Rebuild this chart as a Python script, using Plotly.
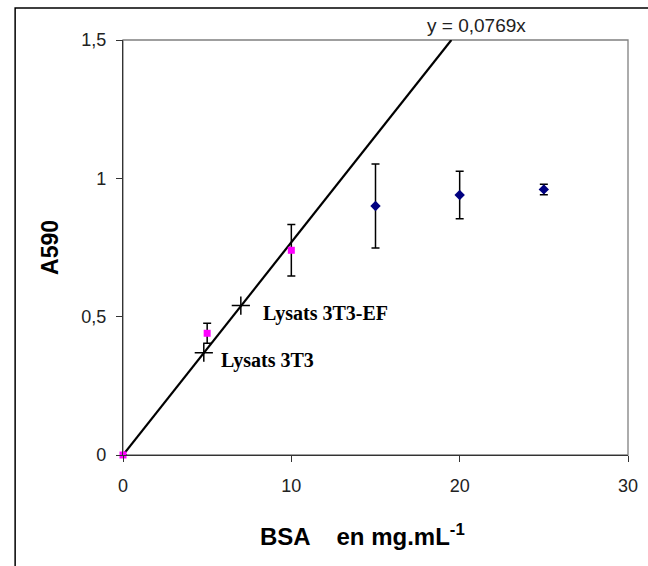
import plotly.graph_objects as go

# ---- data ----
bsa_std = [0, 5, 10]
a590_std = [0.0, 0.44, 0.74]
err_std = [0.0, 0.036, 0.093]

bsa_sat = [15, 20, 25]
a590_sat = [0.90, 0.94, 0.96]
err_sat = [0.152, 0.086, 0.019]

lysat_names = ["Lysats 3T3", "Lysats 3T3-EF"]
lysat_x = [4.8, 7.0]
lysat_y = [0.37, 0.54]

slope = 0.0769
y_max = 1.5

x_ticks = [0, 10, 20, 30]
x_ticktext = ["0", "10", "20", "30"]
y_ticks = [0, 0.5, 1, 1.5]
y_ticktext = ["0", "0,5", "1", "1,5"]

# ---- figure ----
fig = go.Figure()

fig.add_trace(go.Scatter(
    x=[0, y_max / slope], y=[0, y_max], mode="lines",
    line=dict(color="black", width=2.2), cliponaxis=False, showlegend=False))

fig.add_trace(go.Scatter(
    x=bsa_std, y=a590_std, mode="markers",
    marker=dict(symbol="square", size=7, color="#FF00FF"),
    error_y=dict(type="data", array=err_std, visible=True, color="black", thickness=1.5, width=4),
    cliponaxis=False, showlegend=False))

fig.add_trace(go.Scatter(
    x=bsa_sat, y=a590_sat, mode="markers",
    marker=dict(symbol="diamond", size=8, color="#000080"),
    error_y=dict(type="data", array=err_sat, visible=True, color="black", thickness=1.5, width=4),
    cliponaxis=False, showlegend=False))

fig.add_trace(go.Scatter(
    x=lysat_x, y=lysat_y, mode="markers",
    marker=dict(symbol="cross-thin", size=13, line=dict(color="black", width=1.5)),
    cliponaxis=False, showlegend=False))

# lysat labels
label_font = dict(family="Liberation Serif, Times New Roman, serif", size=20, color="black")
for name, lx, ly, dx, dy in zip(lysat_names, lysat_x, lysat_y, [0.9, 1.2], [-0.027, -0.027]):
    fig.add_annotation(x=lx + dx, y=ly + dy, xref="x", yref="y", text="<b>" + name + "</b>",
                       showarrow=False, xanchor="left", yanchor="middle", font=label_font)

# equation
fig.add_annotation(x=21.0, y=1.036, xref="x", yref="paper", text="y = 0,0769x",
                   showarrow=False, xanchor="center", yanchor="middle",
                   font=dict(family="Liberation Sans, Arial, sans-serif", size=19, color="#222"))

# axis titles
title_font = dict(family="Liberation Sans, Arial, sans-serif", size=24, color="black")
fig.add_annotation(x=-0.1456, y=0.5, xref="paper", yref="paper", text="<b>A590</b>",
                   textangle=-90, showarrow=False, xanchor="center", yanchor="middle",
                   font=dict(family="Liberation Sans, Arial, sans-serif", size=23, color="black"))
fig.add_annotation(x=0.4738, y=-0.193, xref="paper", yref="paper",
                   text="<b>BSA    en mg.mL<sup>-1</sup></b>",
                   showarrow=False, xanchor="center", yanchor="middle", font=title_font)

# plot area border (gray) and outer frame
fig.add_shape(type="rect", xref="paper", yref="paper", x0=0, y0=0, x1=1, y1=1,
              line=dict(color="#808080", width=1.3), layer="below")
fig.add_shape(type="rect", xref="paper", yref="paper", x0=-0.2136, y0=-0.32, x1=1.06, y1=1.0771,
              line=dict(color="black", width=1.5), layer="below")

tick_font = dict(family="Liberation Sans, Arial, sans-serif", size=18, color="#222")
fig.update_xaxes(range=[0, 30], tickvals=x_ticks, ticktext=x_ticktext, showgrid=False, zeroline=False,
                 showline=True, linecolor="#333", linewidth=1.3, ticks="outside", ticklen=6,
                 tickcolor="#333", tickwidth=1.3, tickfont=tick_font, ticklabelstandoff=8,
                 ticklabeloverflow="allow")
fig.update_yaxes(range=[0, 1.5], tickvals=y_ticks, ticktext=y_ticktext, showgrid=False, zeroline=False,
                 showline=True, linecolor="#333", linewidth=1.3, ticks="outside", ticklen=6,
                 tickcolor="#333", tickwidth=1.3, tickfont=tick_font, ticklabelstandoff=6)

fig.update_layout(width=648, height=566, margin=dict(l=123, r=10, t=40, b=111),
                  paper_bgcolor="white", plot_bgcolor="white", showlegend=False)

fig.write_html("out.html", config={"displayModeBar": False},
               post_script="document.body.style.margin='0';document.body.style.overflow='hidden';")
